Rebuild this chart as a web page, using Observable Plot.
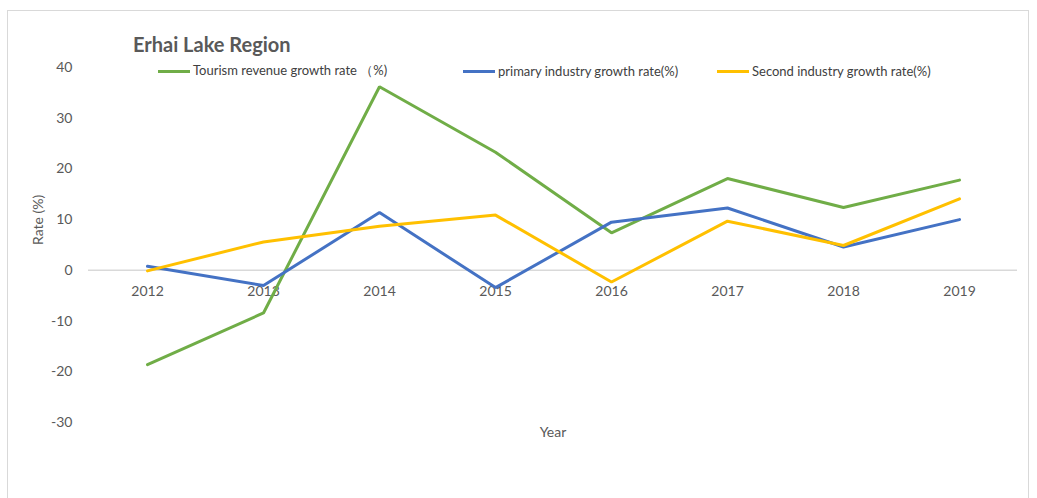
<!DOCTYPE html>
<html>
<head>
<meta charset="utf-8">
<script src="https://cdn.jsdelivr.net/npm/d3@7"></script>
<script src="https://cdn.jsdelivr.net/npm/@observablehq/plot@0.6"></script>
<style>
  html, body { margin: 0; padding: 0; background: #fff; overflow: hidden; }
  #wrap { position: relative; width: 1037px; height: 498px; font-family: Lato, "Noto Sans", sans-serif; color: #595959; }
  #border { position: absolute; left: 7px; top: 10px; width: 1022px; height: 500px; border: 1px solid #d9d9d9; box-sizing: border-box; }
  #chart { position: absolute; left: 0; top: 0; }
  #title { position: absolute; left: 133px; top: 32px; font-size: 20px; font-weight: bold; color: #595959; white-space: nowrap; line-height: 24px; }
  .leg { position: absolute; top: 63px; font-size: 13px; color: #404040; white-space: nowrap; display: flex; align-items: center; height: 16px; }
  .sw { display: inline-block; width: 32px; height: 3px; margin-right: 3px; }
</style>
</head>
<body>
<div id="wrap">
  <div id="border"></div>
  <div id="chart"></div>
  <div id="title">Erhai Lake Region</div>
  <div id="legend"></div>
</div>
<script>
const years = ["2012", "2013", "2014", "2015", "2016", "2017", "2018", "2019"];
const seriesNames = ["Tourism revenue growth rate （%)", "primary industry growth rate(%)", "Second industry growth rate(%)"];
const seriesColors = ["#70AD47", "#4472C4", "#FFC000"];
const tourism = [-18.6, -8.4, 36.2, 23.3, 7.4, 18.1, 12.4, 17.8];
const primary = [0.8, -3.0, 11.4, -3.4, 9.5, 12.3, 4.6, 10.0];
const second = [-0.1, 5.6, 8.7, 10.9, -2.3, 9.7, 4.9, 14.1];
const yTicks = [-30, -20, -10, 0, 10, 20, 30, 40];
const legendLeft = [158, 463, 717];

const allSeries = [tourism, primary, second];
const data = [];
allSeries.forEach((vals, si) => {
  vals.forEach((v, i) => data.push({ year: years[i], value: v, series: seriesNames[si] }));
});

const chart = Plot.plot({
  width: 1037,
  height: 498,
  marginLeft: 88,
  marginRight: 20,
  marginTop: 67,
  marginBottom: 76,
  style: { fontFamily: "Lato, 'Noto Sans', sans-serif", fontSize: "14px", color: "#595959", background: "transparent" },
  x: { type: "point", domain: years, padding: 0.5, axis: null },
  y: { domain: [-30, 40], ticks: yTicks, axis: null },
  color: { domain: seriesNames, range: seriesColors },
  marks: [
    Plot.ruleY([0], { stroke: "#d9d9d9", strokeWidth: 1.5 }),
    Plot.axisY({ ticks: yTicks, tickSize: 0, tickPadding: 16, tickFormat: d => String(d), label: null, fill: "#595959", fontSize: 14 }),
    Plot.text(years, { x: d => d, y: 0, dy: 21, fill: "#595959", fontSize: 14 }),
    Plot.lineY(data, { x: "year", y: "value", z: "series", stroke: "series", strokeWidth: 3, strokeLinejoin: "miter" }),
    Plot.text(["Rate (%)"], { frameAnchor: "left", dx: -50, rotate: -90, fill: "#595959", fontSize: 14 }),
    Plot.text(["Year"], { frameAnchor: "bottom", dy: 14, fill: "#595959", fontSize: 14 })
  ]
});
document.getElementById("chart").appendChild(chart);

const legend = document.getElementById("legend");
seriesNames.forEach((name, i) => {
  const item = document.createElement("div");
  item.className = "leg";
  item.style.left = legendLeft[i] + "px";
  const sw = document.createElement("span");
  sw.className = "sw";
  sw.style.background = seriesColors[i];
  item.appendChild(sw);
  item.appendChild(document.createTextNode(name));
  legend.appendChild(item);
});
</script>
</body>
</html>
